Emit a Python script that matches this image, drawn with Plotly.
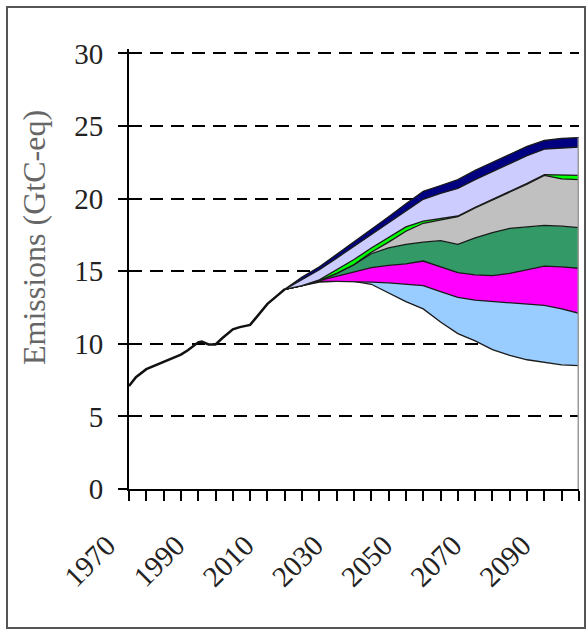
import plotly.graph_objects as go

# ---------------- data ----------------
hist_years = [1970, 1972, 1975, 1978, 1980, 1983, 1985, 1987, 1990, 1991, 1993, 1995,
              1997, 2000, 2002, 2005, 2007, 2010, 2013, 2015]
hist_values = [7.1, 7.7, 8.25, 8.55, 8.75, 9.0, 9.25, 9.55, 10.1, 10.15, 9.95, 9.95,
               10.4, 11.0, 11.15, 11.3, 11.85, 12.75, 13.35, 13.75]

proj_years = [2015, 2020, 2025, 2030, 2035, 2040, 2045, 2050, 2055, 2060,
              2065, 2070, 2075, 2080, 2085, 2090, 2095, 2100]

# cumulative boundaries of the stacked wedges (bottom -> top)
lower_path = [13.75, 14.0, 14.25, 14.3, 14.3, 14.1, 13.5, 12.9, 12.4, 11.5,
              10.7, 10.2, 9.6, 9.2, 8.9, 8.7, 8.55, 8.5]
lightblue_top = [13.75, 14.0, 14.3, 14.3, 14.3, 14.25, 14.2, 14.1, 14.0, 13.6,
                 13.2, 13.0, 12.9, 12.8, 12.7, 12.65, 12.4, 12.1]
magenta_top = [13.75, 14.0, 14.35, 14.65, 15.0, 15.25, 15.4, 15.5, 15.7, 15.3,
               14.9, 14.75, 14.7, 14.85, 15.1, 15.35, 15.3, 15.2]
teal_top = [13.75, 14.0, 14.35, 14.85, 15.45, 16.2, 16.6, 16.85, 17.0, 17.1,
            16.85, 17.3, 17.65, 17.95, 18.05, 18.15, 18.1, 18.0]
gray_top = [13.75, 14.0, 14.35, 14.85, 15.45, 16.3, 17.0, 17.75, 18.3, 18.55,
            18.75, 19.35, 19.9, 20.4, 21.0, 21.6, 21.35, 21.3]
green_top = [13.75, 14.0, 14.4, 15.1, 15.8, 16.6, 17.35, 18.05, 18.45, 18.6,
             18.8, 19.4, 19.95, 20.45, 21.05, 21.65, 21.65, 21.6]
lavender_top = [13.75, 14.45, 15.1, 15.9, 16.7, 17.5, 18.3, 19.15, 19.95, 20.35,
                20.7, 21.3, 21.85, 22.4, 22.95, 23.4, 23.5, 23.55]
baseline_top = [13.75, 14.6, 15.3, 16.15, 17.0, 17.9, 18.75, 19.65, 20.5, 20.9,
                21.3, 21.95, 22.5, 23.05, 23.6, 24.0, 24.15, 24.2]

band_series = [lightblue_top, magenta_top, teal_top, gray_top, green_top, lavender_top, baseline_top]
band_colors = ["#99CCFF", "#FF00FF", "#339966", "#C0C0C0", "#00FF00", "#CCCCFF", "#000080"]

tick_years = list(range(1970, 2101, 5))
tick_labels = [str(y) if (y - 1970) % 20 == 0 and y < 2100 else "" for y in tick_years]

y_ticks = [0, 5, 10, 15, 20, 25, 30]
y_title = "Emissions (GtC-eq)"

# ---------------- figure ----------------
W, H = 587, 630
ML, MR, MT, MB = 129, 8, 49, 141

fig = go.Figure()

fig.add_trace(go.Scatter(x=proj_years, y=lower_path, mode="lines",
                         line=dict(color="#1a1a1a", width=1.3), hoverinfo="skip"))
for vals, col in zip(band_series, band_colors):
    fig.add_trace(go.Scatter(x=proj_years, y=vals, mode="lines", fill="tonexty",
                             fillcolor=col, line=dict(color="#1a1a1a", width=1.3),
                             hoverinfo="skip"))

# right edge of the area block
fig.add_trace(go.Scatter(x=[proj_years[-1], proj_years[-1]], y=[0, baseline_top[-1]],
                         mode="lines", line=dict(color="#9a9a9a", width=3), hoverinfo="skip"))

# historical emissions
fig.add_trace(go.Scatter(x=hist_years, y=hist_values, mode="lines",
                         line=dict(color="#111111", width=2.5), hoverinfo="skip"))

font_serif = "Liberation Serif, Times New Roman, serif"

fig.update_layout(
    width=W, height=H,
    margin=dict(l=ML, r=MR, t=MT, b=MB, autoexpand=False),
    paper_bgcolor="white", plot_bgcolor="white",
    showlegend=False,
    font=dict(family=font_serif, color="#222222"),
)

fig.update_xaxes(
    range=[1970, 2100], tickmode="array", tickvals=tick_years, ticktext=tick_labels,
    tickangle=-45, tickfont=dict(family=font_serif, size=29, color="#222222"),
    showline=True, linecolor="black", linewidth=2,
    ticks="outside", ticklen=10, tickwidth=2, tickcolor="black",
    showgrid=False, zeroline=False, automargin=False,
    ticklabelstandoff=16, ticklabelshift=-22,
)
fig.update_yaxes(
    range=[0, 30.3], tickmode="array", tickvals=y_ticks,
    tickfont=dict(family=font_serif, size=29, color="#222222"),
    showline=True, linecolor="black", linewidth=2,
    ticks="outside", ticklen=9, tickwidth=2, tickcolor="black",
    showgrid=True, gridcolor="black", gridwidth=2, griddash="13px,8px",
    zeroline=False, ticklabelstandoff=9, automargin=False,
)

pw = W - ML - MR
ph = H - MT - MB
def px_to_x(px):
    return (px - ML) / pw
def py_to_y(py):
    return (H - MB - py) / ph

# y axis title
fig.add_annotation(text=y_title, textangle=-90, showarrow=False,
                   xref="paper", yref="paper", x=px_to_x(34), y=py_to_y(238),
                   xanchor="center", yanchor="middle",
                   font=dict(family=font_serif, size=32, color="#666666"))

# outer frame
fig.add_shape(type="rect", xref="paper", yref="paper",
              x0=px_to_x(7), x1=px_to_x(585), y0=py_to_y(628), y1=py_to_y(7),
              line=dict(color="#555555", width=2), fillcolor="rgba(0,0,0,0)", layer="above")

fig.write_html("out.html", config={"displayModeBar": False},
               post_script="document.body.style.margin='0';document.body.style.padding='0';")
